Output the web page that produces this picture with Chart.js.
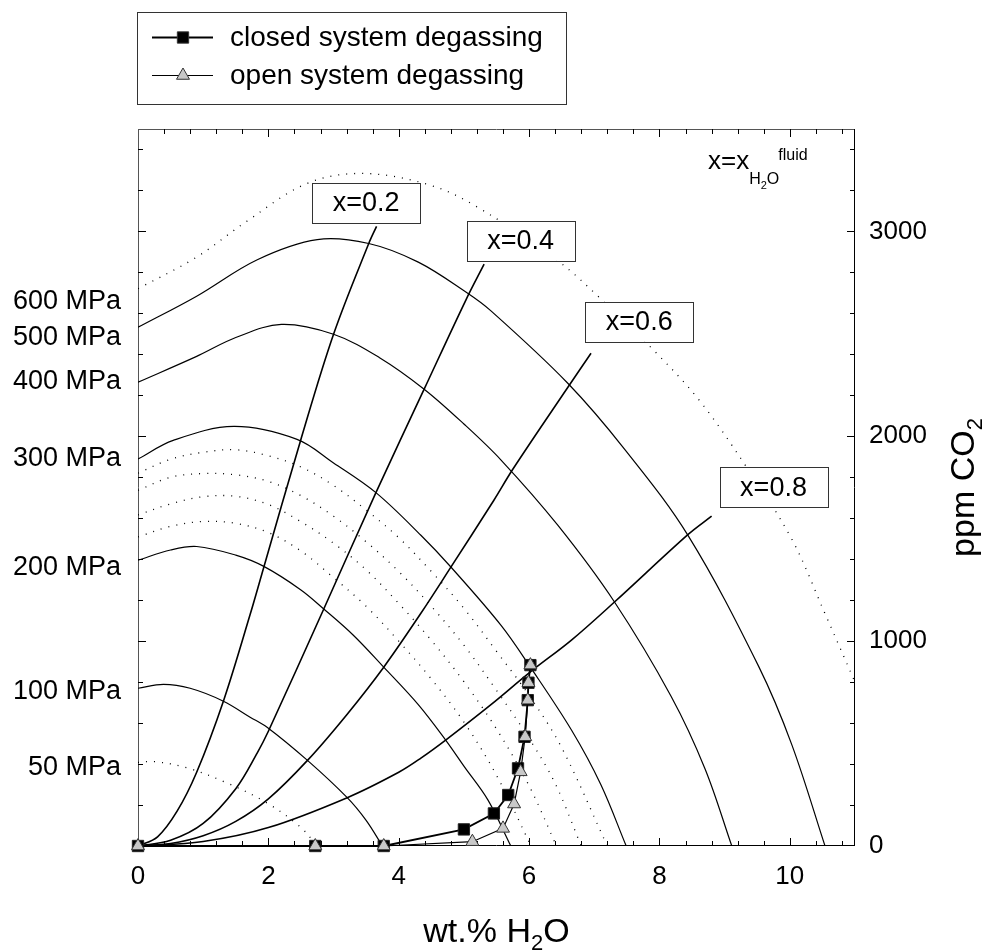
<!DOCTYPE html>
<html>
<head>
<meta charset="utf-8">
<script src="https://cdn.jsdelivr.net/npm/chart.js@4.4.0/dist/chart.umd.min.js"></script>
<style>
  html, body { margin: 0; padding: 0; background: #fff; }
  #wrap { width: 996px; height: 951px; }
</style>
</head>
<body>
<div id="wrap"><canvas id="chart" width="996" height="951"></canvas></div>
<script>
// isobars: [wt.% H2O, ppm CO2]
const isobar600 = [[0,2720],[0.9,2875],[1.67,3050],[2.6,3235],[3.46,3283],[4.49,3225],[5.21,3118],[6.42,2862],[7.11,2668],[7.88,2430],[8.6,2180],[9.31,1862],[10.03,1498],[10.54,1134],[11.0,800]];
const isobar500 = [[0,2532],[0.9,2684],[1.83,2862],[2.75,2960],[3.54,2941],[4.3,2850],[5.03,2704],[5.415,2612],[6.59,2260],[7.47,1935],[8.44,1515],[9.52,878],[10.03,495],[10.54,0]];
const isobar400 = [[0,2264],[0.9,2390],[1.5,2482],[2.2,2546],[3.0,2498],[3.7,2385],[4.39,2230],[5.0,2060],[5.57,1884],[6.44,1566],[7.31,1191],[8.18,730],[8.7,376],[9.11,0]];
const isobar300 = [[0,1889],[0.54,1980],[1.47,2048],[2.44,1985],[3.0,1870],[3.65,1725],[4.34,1517],[4.8,1362],[5.57,1077],[6.03,868],[6.65,566],[7.1,300],[7.49,0]];
const isobar280 = [[0,1820],[0.5,1888],[1.0,1922],[1.5,1934],[2.0,1905],[2.5,1850],[3.0,1760],[3.5,1640],[4.0,1505],[4.5,1340],[5.0,1160],[5.5,950],[6.0,735],[6.5,480],[7.2,0]];
const isobar260 = [[0,1736],[0.5,1800],[1.0,1818],[1.5,1812],[2.0,1780],[2.5,1710],[3.0,1610],[3.5,1485],[4.0,1340],[4.5,1170],[5.0,980],[5.5,760],[6.0,525],[6.4,305],[6.8,0]];
const isobar240 = [[0,1616],[0.5,1670],[1.0,1705],[1.5,1707],[2.0,1667],[2.5,1583],[3.0,1478],[3.5,1348],[4.0,1184],[4.5,1004],[5.0,802],[5.5,571],[6.0,294],[6.42,0]];
const isobar220 = [[0,1509],[0.5,1560],[1.0,1584],[1.5,1575],[2.0,1530],[2.5,1440],[3.0,1310],[3.5,1170],[4.0,1000],[4.5,815],[5.0,605],[5.5,345],[6.03,0]];
const isobar200 = [[0,1395],[0.5,1445],[0.9,1462],[1.5,1420],[1.93,1365],[2.5,1250],[2.85,1157],[3.3,1030],[3.77,873],[4.3,690],[4.72,517],[5.0,390],[5.37,224],[5.72,0]];
const isobar100 = [[0,770],[0.39,789],[0.8,770],[1.31,707],[1.72,629],[1.98,580],[2.6,418],[3.21,236],[3.5,125],[3.75,0]];
const isobar50 = [[0,408],[0.25,412],[0.75,382],[1.37,307],[1.98,210],[2.49,93],[2.75,0]];

// isopleths of fluid composition x = x(H2O, fluid)
const isopleth02 = [[0,0],[0.3,45],[0.6,170],[0.9,360],[1.31,707],[1.72,1130],[1.93,1361],[2.49,1975],[3.0,2498],[3.54,2941],[3.66,3025]];
const isopleth04 = [[0,0],[0.5,28],[1.0,110],[1.5,280],[1.83,455],[2.0,560],[2.85,1157],[3.65,1725],[4.39,2230],[5.03,2665],[5.31,2840]];
const isopleth06 = [[0,0],[0.5,12],[1.0,50],[1.5,120],[2.0,230],[2.6,418],[3.2,640],[3.77,873],[4.34,1136],[4.8,1361],[5.46,1688],[5.75,1839],[6.59,2237],[6.95,2405]];
const isopleth08 = [[0,0],[1.0,22],[2.0,90],[3.21,236],[4.0,360],[4.34,429],[4.72,517],[5.415,690],[6.02,850],[6.65,1005],[7.31,1191],[8.44,1521],[8.8,1610]];

// degassing paths
const closedX = [0, 2.72, 3.77, 5.0, 5.46, 5.68, 5.83, 5.93, 5.98, 5.99, 6.02];
const closedY = [0, 0, 0, 81, 159, 249, 379, 533, 712, 797, 883];
const openX = [0, 2.72, 3.77, 5.13, 5.6, 5.77, 5.87, 5.94, 5.98, 5.99, 6.02];
const openY = [0, 0, 0, 21, 86, 205, 362, 533, 712, 797, 883];

// axes and labels
const xTickValues = [0, 2, 4, 6, 8, 10];
const yTickValues = [0, 1000, 2000, 3000];
const mpaLabels = ['600 MPa', '500 MPa', '400 MPa', '300 MPa', '200 MPa', '100 MPa', '50 MPa'];
const mpaLabelY = [2659, 2483, 2268, 1893, 1361, 756, 385];
const isoplethLabels = ['x=0.2', 'x=0.4', 'x=0.6', 'x=0.8'];
const isoplethLabelX = [3.5, 5.87, 7.69, 9.75];
const isoplethLabelY = [3141, 2954, 2559, 1752];

const FONT = "'Liberation Sans', Arial, Helvetica, sans-serif";
const font = size => size + 'px ' + FONT;

Chart.defaults.font.family = FONT;
Chart.defaults.color = '#000';

function pts(arr) {
    return arr.map(p => ({ x: p[0], y: p[1] }));
}

function curve(arr, dotted, width) {
    return {
        data: pts(arr),
        showLine: true,
        pointRadius: 0,
        pointHoverRadius: 0,
        borderColor: '#000',
        borderWidth: width,
        borderDash: dotted ? [1, 7] : [],
        tension: 0.35,
        fill: false
    };
}

// draw text pieces one after another: [text, size, baseline]
function drawRuns(ctx, runs, x) {
    runs.forEach(r => {
        ctx.font = font(r[1]);
        ctx.fillText(r[0], x, r[2]);
        x += ctx.measureText(r[0]).width;
    });
    return x;
}

function runsWidth(ctx, runs) {
    let w = 0;
    runs.forEach(r => { ctx.font = font(r[1]); w += ctx.measureText(r[0]).width; });
    return w;
}

function line(ctx, x1, y1, x2, y2) {
    ctx.beginPath();
    ctx.moveTo(x1, y1);
    ctx.lineTo(x2, y2);
    ctx.stroke();
}

const frame = {
    id: 'frame',
    beforeDatasetsDraw(chart) {
        const { ctx, chartArea: a, scales: { x, y } } = chart;
        ctx.save();
        ctx.lineWidth = 1;
        // axes box
        ctx.strokeStyle = '#555';
        line(ctx, a.left + 0.5, a.top + 0.5, a.left + 0.5, a.bottom);
        line(ctx, a.left, a.top + 0.5, a.right, a.top + 0.5);
        ctx.strokeStyle = '#000';
        line(ctx, a.right - 0.5, a.top, a.right - 0.5, a.bottom);
        line(ctx, a.left, a.bottom - 0.5, a.right, a.bottom - 0.5);

        // inward ticks, minor every 0.4 wt.% and 200 ppm
        for (let i = 1; i <= 27; i++) {
            const v = i * 0.4;
            const px = Math.round(x.getPixelForValue(v)) + 0.5;
            const len = Math.abs(v / 2 - Math.round(v / 2)) < 1e-6 ? 8 : 5;
            line(ctx, px, a.top, px, a.top + len);
            line(ctx, px, a.bottom, px, a.bottom - len);
        }
        for (let v = 200; v < 3500; v += 200) {
            const py = Math.round(y.getPixelForValue(v)) + 0.5;
            const len = v % 1000 === 0 ? 8 : 5;
            line(ctx, a.left, py, a.left + len, py);
            line(ctx, a.right, py, a.right - len, py);
        }
        ctx.restore();
    },
    afterDatasetsDraw(chart) {
        const { ctx, chartArea: a, scales: { x, y } } = chart;
        ctx.save();
        ctx.fillStyle = '#000';

        // isobar labels on the left
        ctx.font = font(27);
        ctx.textAlign = 'right';
        ctx.textBaseline = 'middle';
        mpaLabels.forEach((t, i) => ctx.fillText(t, 121, y.getPixelForValue(mpaLabelY[i])));

        // isopleth label boxes
        ctx.textAlign = 'center';
        isoplethLabels.forEach((t, i) => {
            const cx = x.getPixelForValue(isoplethLabelX[i]);
            const cy = y.getPixelForValue(isoplethLabelY[i]);
            ctx.fillStyle = '#fff';
            ctx.fillRect(cx - 54, cy - 20, 108, 40);
            ctx.strokeStyle = '#333';
            ctx.lineWidth = 1;
            ctx.strokeRect(Math.round(cx - 54) + 0.5, Math.round(cy - 20) + 0.5, 108, 40);
            ctx.fillStyle = '#000';
            ctx.font = font(27);
            ctx.fillText(t, cx, cy + 1);
        });

        // x = x_H2O^fluid
        ctx.textAlign = 'left';
        ctx.textBaseline = 'alphabetic';
        const end = drawRuns(ctx, [['x=x', 26, 169], ['H', 16, 184], ['2', 11, 189], ['O', 16, 184]], 708);
        ctx.font = font(16);
        ctx.fillText('fluid', end - 1, 160);

        // axis titles
        const xt = [['wt.% H', 34, 942], ['2', 22, 950], ['O', 34, 942]];
        drawRuns(ctx, xt, (a.left + a.right) / 2 - runsWidth(ctx, xt) / 2);

        ctx.save();
        ctx.translate(962, (a.top + a.bottom) / 2);
        ctx.rotate(-Math.PI / 2);
        const yt = [['ppm CO', 34, 12], ['2', 22, 20]];
        drawRuns(ctx, yt, -runsWidth(ctx, yt) / 2);
        ctx.restore();

        // legend
        ctx.fillStyle = '#fff';
        ctx.fillRect(137, 12, 429, 92);
        ctx.strokeStyle = '#333';
        ctx.strokeRect(137.5, 12.5, 429, 92);
        const rows = [
            { text: 'closed system degassing', y: 37, style: 'rect', r: 8, fill: '#000', lw: 1.8 },
            { text: 'open system degassing', y: 75, style: 'triangle', r: 7.5, fill: '#c8c8c8', lw: 1.2 }
        ];
        rows.forEach(row => {
            ctx.strokeStyle = '#000';
            ctx.lineWidth = row.lw;
            line(ctx, 152, row.y + 0.5, 213, row.y + 0.5);
            ctx.fillStyle = row.fill;
            ctx.strokeStyle = '#333';
            ctx.lineWidth = 1;
            Chart.helpers.drawPoint(ctx, { pointStyle: row.style, radius: row.r, rotation: 0, borderWidth: 1 }, 183, row.y + 0.5);
            ctx.fillStyle = '#000';
            ctx.font = font(28);
            ctx.textBaseline = 'middle';
            ctx.fillText(row.text, 230, row.y + 1);
        });
        ctx.restore();
    }
};

const datasets = [
    {
        label: 'open system degassing',
        data: openX.map((v, i) => ({ x: v, y: openY[i] })),
        showLine: true,
        borderColor: '#000',
        borderWidth: 1.2,
        pointStyle: 'triangle',
        pointRadius: 7.5,
        pointBackgroundColor: '#c8c8c8',
        pointBorderColor: '#333',
        pointBorderWidth: 1,
        tension: 0,
        clip: false
    },
    {
        label: 'closed system degassing',
        data: closedX.map((v, i) => ({ x: v, y: closedY[i] })),
        showLine: true,
        borderColor: '#000',
        borderWidth: 1.8,
        pointStyle: 'rect',
        pointRadius: 8,
        pointBackgroundColor: '#000',
        pointBorderColor: '#222',
        pointBorderWidth: 1,
        tension: 0,
        clip: false
    },
    curve(isopleth02, false, 1.6),
    curve(isopleth04, false, 1.6),
    curve(isopleth06, false, 1.6),
    curve(isopleth08, false, 1.6),
    curve(isobar600, true, 1.3),
    curve(isobar500, false, 1.2),
    curve(isobar400, false, 1.2),
    curve(isobar300, false, 1.2),
    curve(isobar280, true, 1.3),
    curve(isobar260, true, 1.3),
    curve(isobar240, true, 1.3),
    curve(isobar220, true, 1.3),
    curve(isobar200, false, 1.2),
    curve(isobar100, false, 1.2),
    curve(isobar50, true, 1.3)
];

new Chart(document.getElementById('chart'), {
    type: 'scatter',
    data: { datasets },
    options: {
        responsive: false,
        devicePixelRatio: 1,
        animation: false,
        layout: { padding: { left: 138, top: 129, right: 0, bottom: 0 } },
        plugins: {
            legend: { display: false },
            tooltip: { enabled: false }
        },
        scales: {
            x: {
                type: 'linear',
                position: 'bottom',
                min: 0,
                max: 11,
                grid: { display: false, drawTicks: false },
                border: { display: false },
                ticks: { font: { size: 26 }, padding: 15, maxRotation: 0, color: '#000', callback: v => String(v) },
                afterBuildTicks: s => { s.ticks = xTickValues.map(v => ({ value: v })); },
                afterFit: s => { s.height = 105; }
            },
            y: {
                type: 'linear',
                position: 'right',
                min: 0,
                max: 3500,
                grid: { display: false, drawTicks: false },
                border: { display: false },
                ticks: { font: { size: 26 }, padding: 14, color: '#000', callback: v => String(v) },
                afterBuildTicks: s => { s.ticks = yTickValues.map(v => ({ value: v })); },
                afterFit: s => { s.width = 141; }
            }
        }
    },
    plugins: [frame]
});
</script>
</body>
</html>
